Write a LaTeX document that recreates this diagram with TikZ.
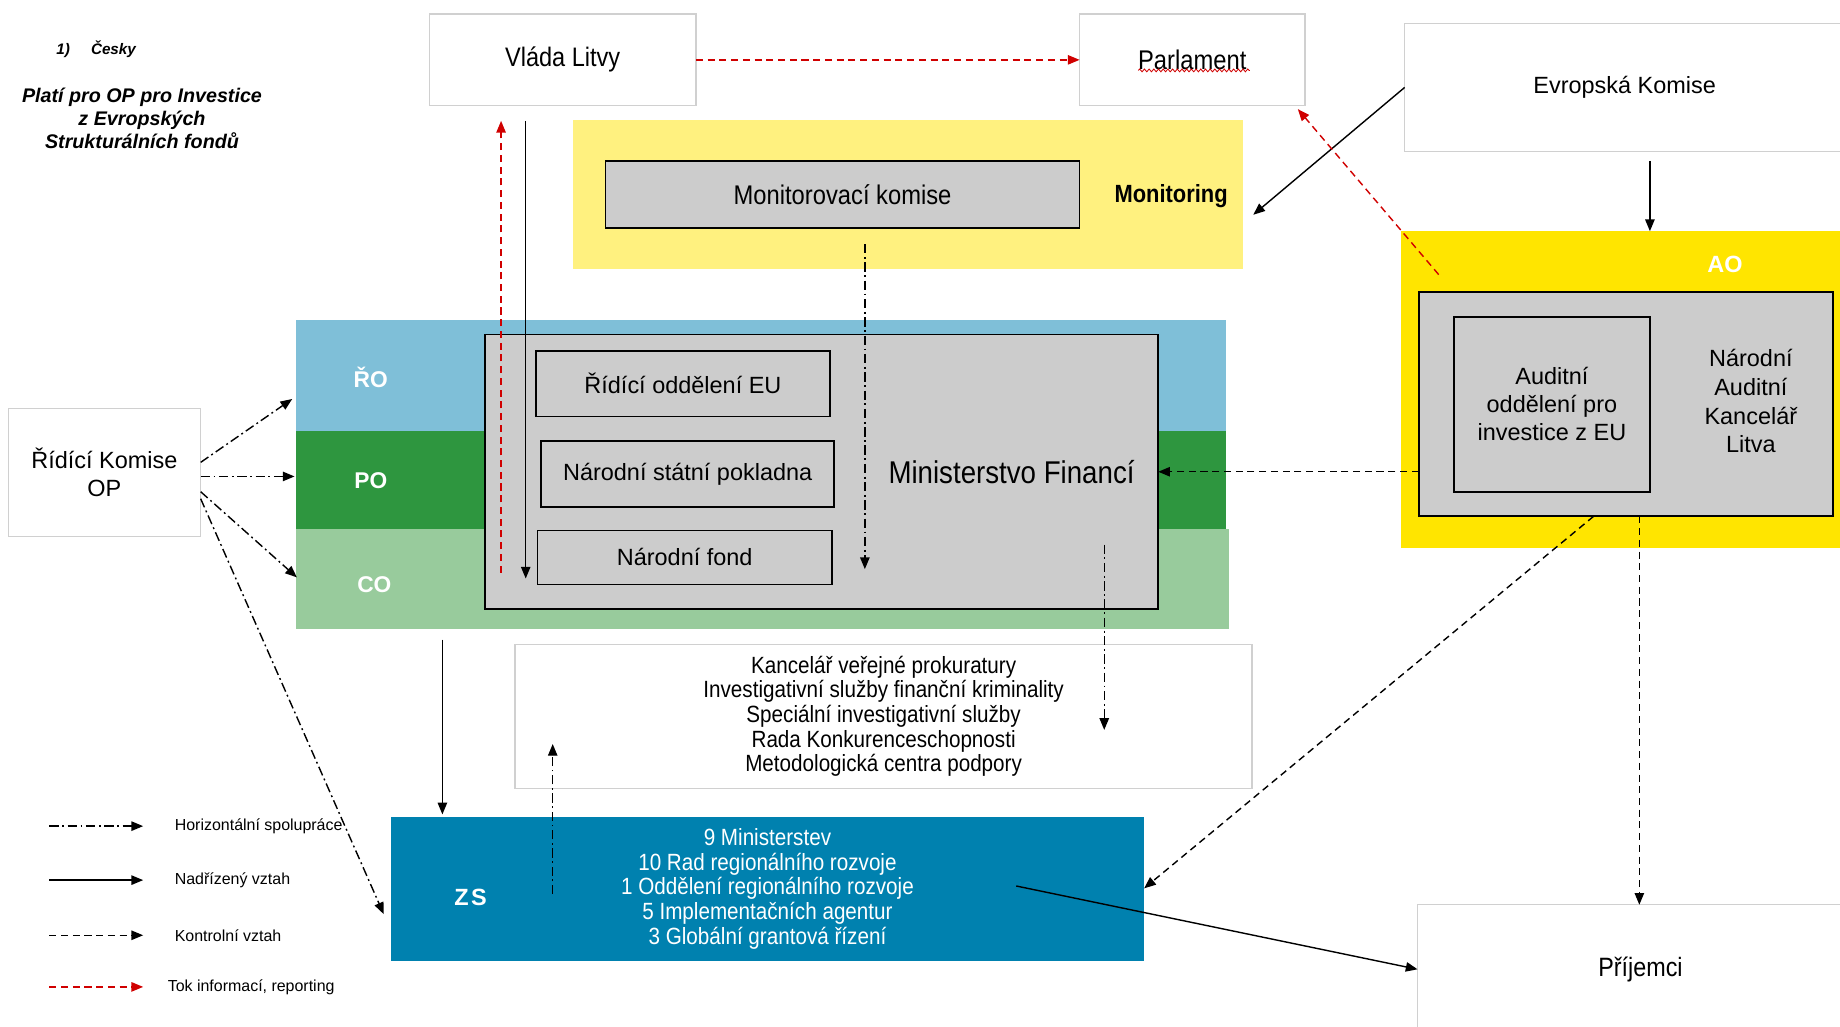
\documentclass[tikz,border=0pt]{standalone}
\usepackage{fontspec}
\setmainfont{Liberation Sans}
\newfontfamily\nar[FakeStretch=0.88]{Liberation Sans}
\usetikzlibrary{arrows.meta,decorations.pathmorphing,calc}
\definecolor{roblue}{HTML}{7FBFD8}
\definecolor{pogreen}{HTML}{2E963F}
\definecolor{cogreen}{HTML}{98CB9C}
\definecolor{boxgray}{HTML}{CCCCCC}
\definecolor{monyellow}{HTML}{FFF17F}
\definecolor{aoyellow}{HTML}{FFE500}
\definecolor{zsblue}{HTML}{0081AF}
\definecolor{lightedge}{HTML}{D0D0D0}
\definecolor{infored}{HTML}{D00000}
\newcommand\boxat[7]{\node[#6, minimum width={(#4-#2)*0.5pt}, minimum height={(#5-#3)*0.5pt}] (#1) at ({(#2+#4)/2},{(#3+#5)/2}) {#7};}
\tikzset{
  every node/.style={inner sep=0pt, outer sep=0pt},
  lightbox/.style={draw=lightedge, line width=0.6pt, fill=white, align=center},
  graybox/.style={draw=black, line width=0.75pt, fill=boxgray, align=center},
  bandlabel/.style={text=white, font=\bfseries\fontsize{9.7}{11}\selectfont},
  conn/.style={line width=0.6pt, -{Triangle[length=5pt,width=4pt]}},
  ctrl/.style={conn, dash pattern=on 3pt off 2pt},
  horiz/.style={conn, dash pattern=on 4pt off 1.5pt on 0.8pt off 1.5pt},
  info/.style={conn, draw=infored, dash pattern=on 3pt off 2pt},
  legtext/.style={anchor=west, font=\fontsize{6.8}{8}\selectfont},
  regtext/.style={font=\fontsize{10}{12}\selectfont},
}
\begin{document}
\begin{tikzpicture}[x=0.5pt,y=-0.5pt]
\useasboundingbox (0,0) rectangle (1568,875);
\clip (0,0) rectangle (1568,875);
\fill[white] (0,0) rectangle (1568,875);

% title
\node[anchor=west, font=\bfseries\itshape\fontsize{6.5}{8}\selectfont] (cesky) at (48,42) {1)\hspace{9pt}Česky};
\node[align=center, font=\bfseries\itshape\fontsize{8.4}{9.8}\selectfont] (title) at (121,101) {Platí pro OP pro Investice\\z Evropských\\Strukturálních fondů};

% top boxes
\boxat{vlada}{366}{12}{593}{90}{lightbox, font=\nar\fontsize{11.4}{13}\selectfont}{\raisebox{-1.2pt}{Vláda Litvy}}
\boxat{parl}{920}{12}{1112}{90}{lightbox, font=\nar\fontsize{11.5}{13}\selectfont}{Parlament}
\draw[infored, line width=0.35pt, decorate, decoration={snake, amplitude=0.6pt, segment length=2pt}] ($(parl.center)+(-46,9)$) -- ($(parl.center)+(49,9)$);
\boxat{ek}{1197}{20}{1572}{129}{lightbox, regtext}{\raisebox{-1.2pt}{Evropská Komise}}

% monitoring
\boxat{mon}{488}{102}{1059}{229}{fill=monyellow}{}
\boxat{mk}{516}{137}{920}{194}{graybox, font=\nar\fontsize{11.5}{13}\selectfont}{Monitorovací komise}
\node[font=\nar\bfseries\fontsize{10.6}{12}\selectfont] (monlabel) at (998,167) {Monitoring};

% AO
\boxat{ao}{1194}{197}{1575}{467}{fill=aoyellow}{}
\node[text=white, font=\bfseries\fontsize{10}{12}\selectfont] (aolabel) at (1470,225) {AO};
\boxat{nak}{1209}{249}{1562}{440}{graybox}{}
\node[align=center, font=\fontsize{10}{12.2}\selectfont] (naklabel) at (1492,342) {Národní\\Auditní\\Kancelář\\Litva};
\boxat{aud}{1239}{270}{1406}{419}{graybox, regtext}{Auditní\\oddělení pro\\investice z EU}

% bands
\boxat{ro}{252}{273}{1045}{367}{fill=roblue}{}
\boxat{po}{252}{367}{1045}{451}{fill=pogreen}{}
\boxat{co}{252}{451}{1047}{536}{fill=cogreen}{}
\node[bandlabel] (rolabel) at (316,322) {ŘO};
\node[bandlabel] (polabel) at (316,410) {PO};
\node[bandlabel] (colabel) at (319,498) {CO};

% ministry
\boxat{mf}{413}{285}{987}{519}{graybox}{}
\node[font=\nar\fontsize{13.4}{15}\selectfont] (mflabel) at (862,402) {Ministerstvo Financí};
\boxat{rod}{457}{299}{707}{355}{graybox, regtext}{Řídící oddělení EU}
\boxat{nsp}{461}{376}{711}{432}{graybox, regtext}{\raisebox{-1.2pt}{Národní státní pokladna}}
\boxat{nf}{458}{452}{709}{498}{graybox, regtext}{Národní fond}

% left
\boxat{rk}{7}{348}{171}{457}{lightbox, regtext}{Řídící Komise\\OP}

% list box
\boxat{kan}{439}{549}{1067}{672}{lightbox, font=\nar\fontsize{10}{10.5}\selectfont}{Kancelář veřejné prokuratury\\Investigativní služby finanční kriminality\\Speciální investigativní služby\\Rada Konkurenceschopnosti\\Metodologická centra podpory}

% ZS
\boxat{zs}{333}{696}{975}{819}{fill=zsblue, text=white, align=center, font=\nar\fontsize{10}{10.5}\selectfont}{9 Ministerstev\\10 Rad regionálního rozvoje\\1 Oddělení regionálního rozvoje\\5 Implementačních agentur\\3 Globální grantová řízení}
\node[text=white, font=\bfseries\fontsize{10}{12}\selectfont] (zslabel) at (401,765) {Z\kern1pt S};

% Prijemci
\boxat{prij}{1208}{771}{1588}{881}{lightbox, font=\nar\fontsize{11.3}{13}\selectfont}{Příjemci}

% connectors
\draw[info] (vlada.east) -- (parl.west);
\coordinate (redup) at (427,488);
\draw[info, shorten >=6.5pt] (redup) -- (redup |- vlada.south);
\coordinate (blkdown) at (448,493);
\draw[conn, shorten <=6.5pt] (blkdown |- vlada.south) -- (blkdown);
\coordinate (mkdown) at (737,485);
\draw[horiz, shorten <=7pt] (mkdown |- mk.south) -- (mkdown);
\coordinate (monhit) at (1068,183);
\draw[conn] (ek.west) -- (monhit);
\coordinate (aored) at (1226,234);
\coordinate (parlhit) at (1106,93);
\draw[info] (aored) -- (parlhit);
\coordinate (ekx) at (1406,0);
\draw[conn, shorten <=4pt] (ek.south -| ekx) -- (ao.north -| ekx);
\draw[ctrl] (nak.west |- mf.east) -- (mf.east);
\coordinate (mfdown1) at (941,464);
\coordinate (mfdown2) at (941,622);
\draw[horiz] (mfdown1) -- (mfdown2);
\coordinate (zsup1) at (471,762);
\coordinate (zsup2) at (471,634);
\draw[horiz] (zsup1) -- (zsup2);
\coordinate (cox) at (377,545);
\draw[conn, shorten >=1pt] (cox) -- (zs.north -| cox);

\coordinate (rkA) at (171,394);
\coordinate (rkB) at (171,406);
\coordinate (rkC) at (171,419);
\coordinate (rkD) at (171,425);
\coordinate (roin) at (249,340);
\coordinate (poin) at (251,406);
\coordinate (coin) at (253,492);
\coordinate (zsleft) at (327,779);
\draw[horiz] (rkA) -- (roin);
\draw[horiz] (rkB) -- (poin);
\draw[horiz] (rkC) -- (coin);
\draw[horiz] (rkD) -- (zsleft);

\coordinate (naks1x) at (1358,0);
\coordinate (zsin) at (0,757);
\draw[ctrl] (nak.south -| naks1x) -- (zs.east |- zsin);
\coordinate (naks2x) at (1397,0);
\draw[ctrl] (nak.south -| naks2x) -- (prij.north -| naks2x);
\coordinate (zsout) at (866,755);
\draw[conn] (zsout) -- (prij.west);

% legend
\coordinate (lg1a) at (42,704); \coordinate (lg1b) at (122,704);
\coordinate (lg2a) at (42,750); \coordinate (lg2b) at (122,750);
\coordinate (lg3a) at (42,797); \coordinate (lg3b) at (122,797);
\coordinate (lg4a) at (42,841); \coordinate (lg4b) at (122,841);
\draw[horiz] (lg1a) -- (lg1b);
\draw[conn] (lg2a) -- (lg2b);
\draw[ctrl] (lg3a) -- (lg3b);
\draw[info] (lg4a) -- (lg4b);
\node[legtext] (lgt1) at (149,704) {Horizontální spolupráce};
\node[legtext] (lgt2) at (149,750) {Nadřízený vztah};
\node[legtext] (lgt3) at (149,797) {Kontrolní vztah};
\node[legtext] (lgt4) at (143,841) {Tok informací, reporting};
\end{tikzpicture}
\end{document}
